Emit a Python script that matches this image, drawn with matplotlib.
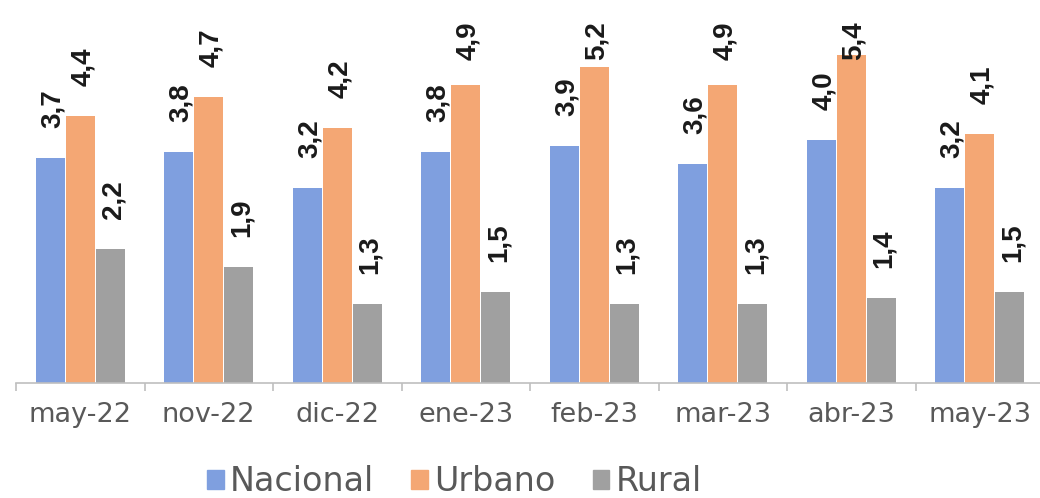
import numpy as np
import matplotlib
matplotlib.use("Agg")
import matplotlib.pyplot as plt
from matplotlib.patches import Patch

meses = ["may-22", "nov-22", "dic-22", "ene-23", "feb-23", "mar-23", "abr-23", "may-23"]
nacional = [3.7, 3.8, 3.2, 3.8, 3.9, 3.6, 4.0, 3.2]
urbano = [4.4, 4.7, 4.2, 4.9, 5.2, 4.9, 5.4, 4.1]
rural = [2.2, 1.9, 1.3, 1.5, 1.3, 1.3, 1.4, 1.5]

series = [("Nacional", nacional, "#7f9fdf"),
          ("Urbano", urbano, "#f4a774"),
          ("Rural", rural, "#a0a0a0")]

plt.rcParams['font.family'] = ['DejaVu Sans']

fig = plt.figure(figsize=(10.4, 4.98), dpi=100)
H = 498
ax = fig.add_axes([16/1040, 1 - 383/H, 1028/1040, 383/H])
ax.set_xlim(-0.5, len(meses) - 0.5)
ax.set_ylim(0, 6.3)

x = np.arange(len(meses))
w = 0.225
gap_px = 30     # distance label <-> bar top
lab_len = 40    # approx label length in px
top_lim = 20    # labels stay below this pixel row
for i, (name, vals, col) in enumerate(series):
    pos = x + (i - 1) * (w + 0.01)
    bars = ax.bar(pos, vals, width=w, color=col, label=name)
    for b, v in zip(bars, vals):
        xc = b.get_x() + b.get_width() / 2
        top_px = H - ax.transData.transform((xc, v))[1]   # from top of image
        off = min(gap_px, top_px - lab_len - top_lim)
        ax.annotate(f"{v:.1f}".replace(".", ","), (xc, v),
                    xytext=(2, off * 72 / 100), textcoords="offset points",
                    rotation=90, ha="center", va="bottom",
                    fontsize=20, fontweight="bold", color="#1a1a1a",
                    family=['Liberation Sans'], annotation_clip=False)

ax.set_yticks([])
for s in ["top", "right", "left"]:
    ax.spines[s].set_visible(False)
ax.spines["bottom"].set_color("#bfbfbf")
ax.spines["bottom"].set_linewidth(1.2)

ax.set_xticks(x)
ax.set_xticklabels(meses, fontsize=19.5, color="#595959")
ax.tick_params(axis="x", which="major", length=0, pad=14)
ax.set_xticks(np.arange(-0.5, len(meses)), minor=True)
ax.tick_params(axis="x", which="minor", length=6, color="#bfbfbf", width=1.2)

handles = [Patch(color=c, label=n) for n, _, c in series]
fig.legend(handles=handles, loc="lower center", ncol=3, frameon=False,
           fontsize=24, bbox_to_anchor=(0.437, -0.06),
           handlelength=0.5, handleheight=0.5, handletextpad=0.2,
           columnspacing=1.1, labelcolor="#595959")

fig.savefig("out.png", dpi=100, facecolor="white")
